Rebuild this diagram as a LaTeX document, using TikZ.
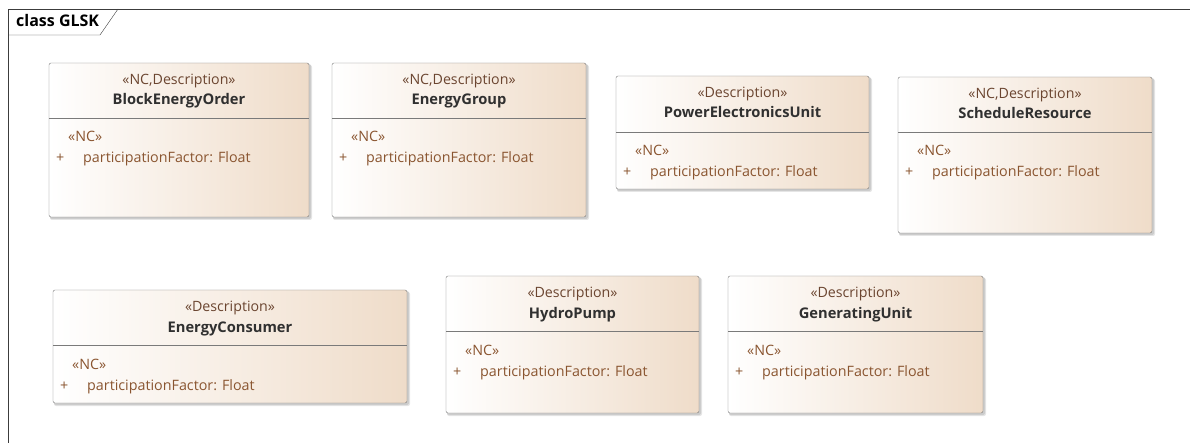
\documentclass[tikz,border=0pt]{standalone}
\usepackage{fontspec}
\setmainfont{Open Sans}
\usetikzlibrary{calc}
\definecolor{UMLFrame}{HTML}{3C3C3C}
\definecolor{UMLBorder}{HTML}{7A7A7A}
\definecolor{UMLLeft}{HTML}{FFFFFF}
\definecolor{UMLRight}{HTML}{EFDCC9}
\definecolor{UMLShadow}{HTML}{B4B4B4}
\definecolor{UMLStereo}{HTML}{6B4530}
\definecolor{UMLName}{HTML}{303030}
\definecolor{UMLAttr}{HTML}{8A5530}

\begin{document}
\begin{tikzpicture}[
    x=1pt, y=-1pt,
    stereo/.style={anchor=base, inner sep=0pt, text=UMLStereo, font=\fontsize{14.2}{16}\selectfont},
    clname/.style={anchor=base, inner sep=0pt, text=UMLName, font=\fontsize{14.7}{16}\selectfont\bfseries},
    attr/.style={anchor=base west, inner sep=0pt, text=UMLAttr, font=\fontsize{14.3}{16}\selectfont}
 ]
\useasboundingbox (0,0) rectangle (1190,443);

% diagram frame
\draw [UMLFrame] (8,443) -- (8,9) -- (1190,9);
\draw [UMLFrame] (8,35) -- (100,35) -- (118,9);
\node [anchor=base west, inner sep=0pt, text=black, font=\fontsize{16}{18}\selectfont\bfseries] (frame-lbl) at (16,27) {class GLSK};

% class boxes: name/left/top/right/bottom/divider/stereotype/class
\foreach \nm/\xa/\ya/\xb/\yb/\hd/\st/\cl in {
    beo/49/63/309/217/55/{NC,Description}/BlockEnergyOrder,
    eg/332/63/586/217/55/{NC,Description}/EnergyGroup,
    peu/616/76/869/189/56/Description/PowerElectronicsUnit,
    sr/898/77/1152/233/55/{NC,Description}/ScheduleResource,
    ec/53/290/407/403/55/Description/EnergyConsumer,
    hp/446/276/699/413/55/Description/HydroPump,
    gu/728/276/983/413/55/Description/GeneratingUnit} {
        \fill [UMLShadow, opacity=0.35, rounded corners=2] (\xa+1,\ya+2) rectangle (\xb+3,\yb+3);
        \fill [UMLShadow, opacity=0.5, rounded corners=2] (\xa+1,\ya+1) rectangle (\xb+2,\yb+2);
        \shade [left color=UMLLeft, right color=UMLRight, rounded corners=2] (\xa,\ya) rectangle (\xb,\yb);
        \draw [UMLBorder, rounded corners=2] (\xa,\ya) rectangle (\xb,\yb);
        \draw [UMLBorder] (\xa,\ya+\hd) -- (\xb,\ya+\hd);
        \node [stereo] (\nm-st) at ({(\xa+\xb)/2},\ya+22) {«\st»};
        \node [clname] (\nm-name) at ({(\xa+\xb)/2},\ya+42) {\cl};
        \node [attr] (\nm-nc) at (\xa+19,\ya+\hd+24) {«NC»};
        \node [attr] (\nm-plus) at (\xa+7,\ya+\hd+45) {+};
        \node [attr] (\nm-attr) at (\xa+34,\ya+\hd+45) {participationFactor: Float};
    }

\end{tikzpicture}
\end{document}
